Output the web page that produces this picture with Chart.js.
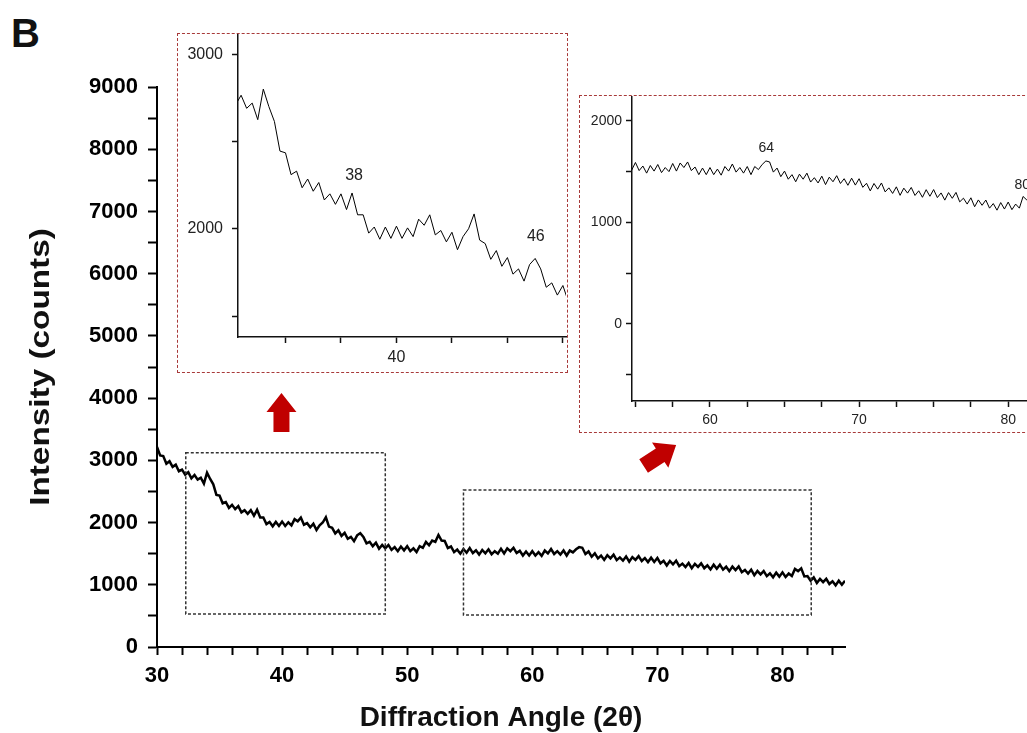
<!DOCTYPE html>
<html>
<head>
<meta charset="utf-8">
<script src="https://cdn.jsdelivr.net/npm/chart.js@4.4.1/dist/chart.umd.min.js"></script>
<style>
  html, body { margin: 0; padding: 0; background: #fff; overflow: hidden; }
  body { width: 1027px; height: 733px; position: relative; }
  #painel { position: absolute; left: 11px; top: 11px; font: bold 40px 'Liberation Sans', Arial, sans-serif; color: #111; }
  #principal { position: absolute; left: 0; top: 0; }
  .caixa { position: absolute; background: #fff; }
  .caixa canvas { position: absolute; left: 0; top: 0; }
  .borda { position: absolute; left: 0; top: 0; right: 0; bottom: 0; border: 1px dashed #a83a3a; box-sizing: border-box; pointer-events: none; }
  #inset1 { left: 177px; top: 33px; width: 391px; height: 340px; }
  #inset2 { left: 579px; top: 95px; width: 461px; height: 338px; }
</style>
</head>
<body>
<div id="painel">B</div>
<canvas id="principal" width="1027" height="733"></canvas>
<div class="caixa" id="inset1"><canvas id="grafInset1" width="391" height="340"></canvas><div class="borda"></div></div>
<div class="caixa" id="inset2"><canvas id="grafInset2" width="461" height="338"></canvas><div class="borda"></div></div>
<script>
// angulo 2θ (graus)
const angulos = [
  30, 30.25, 30.5, 30.75, 31, 31.25, 31.5, 31.75, 32, 32.25, 32.5, 32.75, 33, 33.25, 33.5, 33.75, 34, 34.25, 34.5, 34.75,
  35, 35.25, 35.5, 35.75, 36, 36.25, 36.5, 36.75, 37, 37.25, 37.5, 37.75, 38, 38.25, 38.5, 38.75, 39, 39.25, 39.5, 39.75,
  40, 40.25, 40.5, 40.75, 41, 41.25, 41.5, 41.75, 42, 42.25, 42.5, 42.75, 43, 43.25, 43.5, 43.75, 44, 44.25, 44.5, 44.75,
  45, 45.25, 45.5, 45.75, 46, 46.25, 46.5, 46.75, 47, 47.25, 47.5, 47.75, 48, 48.25, 48.5, 48.75, 49, 49.25, 49.5, 49.75,
  50, 50.25, 50.5, 50.75, 51, 51.25, 51.5, 51.75, 52, 52.25, 52.5, 52.75, 53, 53.25, 53.5, 53.75, 54, 54.25, 54.5, 54.75,
  55, 55.25, 55.5, 55.75, 56, 56.25, 56.5, 56.75, 57, 57.25, 57.5, 57.75, 58, 58.25, 58.5, 58.75, 59, 59.25, 59.5, 59.75,
  60, 60.25, 60.5, 60.75, 61, 61.25, 61.5, 61.75, 62, 62.25, 62.5, 62.75, 63, 63.25, 63.5, 63.75, 64, 64.25, 64.5, 64.75,
  65, 65.25, 65.5, 65.75, 66, 66.25, 66.5, 66.75, 67, 67.25, 67.5, 67.75, 68, 68.25, 68.5, 68.75, 69, 69.25, 69.5, 69.75,
  70, 70.25, 70.5, 70.75, 71, 71.25, 71.5, 71.75, 72, 72.25, 72.5, 72.75, 73, 73.25, 73.5, 73.75, 74, 74.25, 74.5, 74.75,
  75, 75.25, 75.5, 75.75, 76, 76.25, 76.5, 76.75, 77, 77.25, 77.5, 77.75, 78, 78.25, 78.5, 78.75, 79, 79.25, 79.5, 79.75,
  80, 80.25, 80.5, 80.75, 81, 81.25, 81.5, 81.75, 82, 82.25, 82.5, 82.75, 83, 83.25, 83.5, 83.75, 84, 84.25, 84.5, 84.75,
  85
];

const intensidade = [
  3215, 3080, 3070, 2945, 2985, 2895, 2930, 2825, 2850, 2770, 2810, 2710, 2765, 2690, 2720, 2625, 2800, 2700, 2615, 2445,
  2435, 2310, 2330, 2235, 2285, 2215, 2265, 2165, 2200, 2140, 2200, 2110, 2205, 2080, 2080, 1975, 2010, 1940, 2010, 1945,
  2015, 1945, 2005, 1955, 2055, 2020, 2080, 1965, 1990, 1925, 1980, 1880, 1955, 2000, 2085, 1935, 1915, 1825, 1875, 1785,
  1835, 1740, 1770, 1700, 1795, 1830, 1770, 1665, 1690, 1620, 1675, 1580, 1640, 1585, 1640, 1560, 1605, 1540, 1615, 1553,
  1620, 1540, 1585, 1525, 1620, 1595, 1690, 1635, 1710, 1690, 1800, 1710, 1705, 1590, 1615, 1525, 1565, 1500, 1575, 1515,
  1590, 1510, 1555, 1485, 1560, 1505, 1570, 1490, 1540, 1500, 1580, 1505, 1585, 1540, 1595, 1510, 1545, 1470, 1535, 1470,
  1540, 1470, 1525, 1465, 1550, 1505, 1575, 1495, 1540, 1485, 1550, 1470, 1550, 1520, 1570, 1605, 1595, 1495, 1535, 1450,
  1505, 1425, 1470, 1400, 1475, 1425, 1485, 1397, 1440, 1388, 1455, 1372, 1445, 1400, 1460, 1383, 1430, 1365, 1435, 1367,
  1430, 1345, 1385, 1310, 1383, 1327, 1388, 1300, 1340, 1285, 1350, 1266, 1337, 1288, 1344, 1265, 1311, 1247, 1322, 1257,
  1323, 1244, 1290, 1219, 1293, 1237, 1295, 1202, 1238, 1180, 1242, 1154, 1221, 1168, 1220, 1140, 1185, 1120, 1195, 1131,
  1200, 1125, 1180, 1140, 1255, 1220, 1265, 1135, 1140, 1065, 1120, 1030, 1095, 1042, 1095, 1013, 1057, 991, 1065, 1000,
  1065
];

// marcas do eixo y dos detalhes
const ticksY1 = [1500, 2000, 2500, 3000];
const ticksY2 = [-500, 0, 500, 1000, 1500, 2000];

// retangulos pontilhados das regioes ampliadas
const caixaXMin = [32.3, 54.5];
const caixaXMax = [48.25, 82.3];
const caixaYMin = [530, 515];
const caixaYMax = [3120, 2525];

// setas vermelhas (origem -> ponta)
const setaXDe = [39.95, 68.9];
const setaYDe = [3457, 2910];
const setaXPara = [39.95, 71.5];
const setaYPara = [4084, 3248];

// picos marcados nos detalhes
const picos1 = ['38', '46'];
const picos1X = [38.09, 46.28];
const picos1Y = [2305, 1956];
const picos2 = ['64', '80'];
const picos2X = [63.77, 80.95];
const picos2Y = [1731, 1369];

const fonte = "'Liberation Sans', Arial, sans-serif";
Chart.defaults.font.family = fonte;

const pontos = angulos.map((a, i) => ({ x: a, y: intensidade[i] }));

function desenharSeta(ctx, x0, y0, x1, y1) {
  const ang = Math.atan2(y1 - y0, x1 - x0);
  const comp = Math.hypot(x1 - x0, y1 - y0);
  const cabeca = 19, meia = 15, haste = 8;
  ctx.save();
  ctx.translate(x0, y0);
  ctx.rotate(ang);
  ctx.beginPath();
  ctx.moveTo(0, -haste);
  ctx.lineTo(comp - cabeca, -haste);
  ctx.lineTo(comp - cabeca, -meia);
  ctx.lineTo(comp, 0);
  ctx.lineTo(comp - cabeca, meia);
  ctx.lineTo(comp - cabeca, haste);
  ctx.lineTo(0, haste);
  ctx.closePath();
  ctx.fillStyle = '#c00000';
  ctx.fill();
  ctx.restore();
}

const extrasPrincipal = {
  id: 'extrasPrincipal',
  afterDraw(chart) {
    const { ctx, chartArea, scales: { x, y } } = chart;
    ctx.save();
    ctx.strokeStyle = '#333';
    ctx.lineWidth = 1.5;
    ctx.setLineDash([3, 2]);
    caixaXMin.forEach((x0, i) => {
      const l = x.getPixelForValue(x0), r = x.getPixelForValue(caixaXMax[i]);
      const t = y.getPixelForValue(caixaYMax[i]), b = y.getPixelForValue(caixaYMin[i]);
      ctx.strokeRect(l, t, r - l, b - t);
    });
    ctx.restore();
    setaXDe.forEach((x0, i) => {
      desenharSeta(ctx, x.getPixelForValue(x0), y.getPixelForValue(setaYDe[i]),
        x.getPixelForValue(setaXPara[i]), y.getPixelForValue(setaYPara[i]));
    });
    // titulo do eixo y, um pouco alongado como no original
    ctx.save();
    ctx.translate(41, (chartArea.top + chartArea.bottom) / 2);
    ctx.rotate(-Math.PI / 2);
    ctx.scale(1.19, 1);
    ctx.font = 'bold 28px ' + fonte;
    ctx.fillStyle = '#111';
    ctx.textAlign = 'center';
    ctx.textBaseline = 'middle';
    ctx.fillText('Intensity (counts)', 0, 0);
    ctx.restore();
  }
};

function criarRotulos(textos, xs, ys, tamanho) {
  return {
    id: 'rotulos',
    afterDatasetsDraw(chart) {
      const { ctx, scales: { x, y } } = chart;
      ctx.save();
      ctx.font = tamanho + 'px ' + fonte;
      ctx.fillStyle = '#222';
      ctx.textAlign = 'center';
      ctx.textBaseline = 'middle';
      textos.forEach((t, i) => ctx.fillText(t, x.getPixelForValue(xs[i]), y.getPixelForValue(ys[i])));
      ctx.restore();
    }
  };
}

function multiplo(v, m) {
  return Math.abs(v / m - Math.round(v / m)) < 1e-6;
}

// grafico principal
new Chart(document.getElementById('principal'), {
  type: 'line',
  data: { datasets: [{ data: pontos, borderColor: '#000', borderWidth: 2.5, pointRadius: 0, tension: 0, fill: false }] },
  options: {
    responsive: false,
    animation: false,
    events: [],
    layout: { padding: { left: 0, top: 87, right: 182, bottom: 0 } },
    plugins: { legend: { display: false }, tooltip: { enabled: false } },
    scales: {
      x: {
        type: 'linear', min: 30, max: 85,
        ticks: {
          stepSize: 2, includeBounds: false, autoSkip: false, maxRotation: 0, padding: 8,
          color: '#000', font: { size: 22, weight: 'bold' },
          callback: v => multiplo(v, 10) ? String(v) : ''
        },
        grid: { drawOnChartArea: false, tickLength: 8, tickWidth: 2, tickColor: '#000' },
        border: { display: true, color: '#000', width: 2 },
        title: { display: true, text: 'Diffraction Angle (2θ)', color: '#111', font: { size: 28, weight: 'bold' }, padding: { top: 0, bottom: -2 } },
        afterFit: s => { s.height = 86; }
      },
      y: {
        type: 'linear', min: 0, max: 9000,
        ticks: {
          stepSize: 500, includeBounds: false, autoSkip: false, padding: 10,
          color: '#000', font: { size: 22, weight: 'bold' },
          callback: v => multiplo(v, 1000) ? String(v) : ''
        },
        grid: { drawOnChartArea: false, tickLength: 9, tickWidth: 2, tickColor: '#000' },
        border: { display: true, color: '#000', width: 2 },
        afterFit: s => { s.width = 157; }
      }
    }
  },
  plugins: [extrasPrincipal]
});

// detalhes ampliados
function criarInset(id, cfg) {
  return new Chart(document.getElementById(id), {
    type: 'line',
    data: { datasets: [{ data: pontos, borderColor: '#000', borderWidth: 1, pointRadius: 0, tension: 0, fill: false }] },
    options: {
      responsive: false,
      animation: false,
      events: [],
      layout: { padding: { left: 0, top: 2, right: 2, bottom: 0 } },
      plugins: { legend: { display: false }, tooltip: { enabled: false } },
      scales: {
        x: {
          type: 'linear', min: cfg.xMin, max: cfg.xMax,
          ticks: {
            stepSize: 2.5, includeBounds: false, autoSkip: false, maxRotation: 0, padding: cfg.padX,
            color: '#222', font: { size: cfg.fonte },
            callback: v => multiplo(v, cfg.rotX) ? String(v) : ''
          },
          grid: { drawOnChartArea: false, tickLength: 6, tickWidth: 1.5, tickColor: '#111' },
          border: { display: true, color: '#111', width: 1.5 },
          afterFit: s => { s.height = cfg.altX; s.paddingLeft = 0; s.paddingRight = 0; }
        },
        y: {
          type: 'linear', min: cfg.yMin, max: cfg.yMax,
          afterBuildTicks: s => { s.ticks = cfg.ticksY.map(v => ({ value: v })); },
          ticks: {
            autoSkip: false, padding: cfg.padY,
            color: '#222', font: { size: cfg.fonte },
            callback: v => multiplo(v, 1000) ? String(v) : ''
          },
          grid: { drawOnChartArea: false, tickLength: 6, tickWidth: 1.5, tickColor: '#111' },
          border: { display: true, color: '#111', width: 1.5 },
          // sem folga extra para o rotulo do topo
          afterFit: s => { s.width = cfg.largY; s.paddingTop = 0; s.paddingBottom = 0; }
        }
      }
    },
    plugins: [criarRotulos(cfg.textos, cfg.xs, cfg.ys, cfg.fonte)]
  });
}

criarInset('grafInset1', {
  xMin: 32.86, xMax: 47.64, yMin: 1380, yMax: 3110, rotX: 20, ticksY: ticksY1,
  altX: 36, largY: 61, fonte: 16, padX: 5, padY: 9,
  textos: picos1, xs: picos1X, ys: picos1Y
});

criarInset('grafInset2', {
  xMin: 54.77, xMax: 82, yMin: -760, yMax: 2235, rotX: 10, ticksY: ticksY2,
  altX: 32, largY: 53, fonte: 14, padX: 5, padY: 4,
  textos: picos2, xs: picos2X, ys: picos2Y
});
</script>
</body>
</html>
